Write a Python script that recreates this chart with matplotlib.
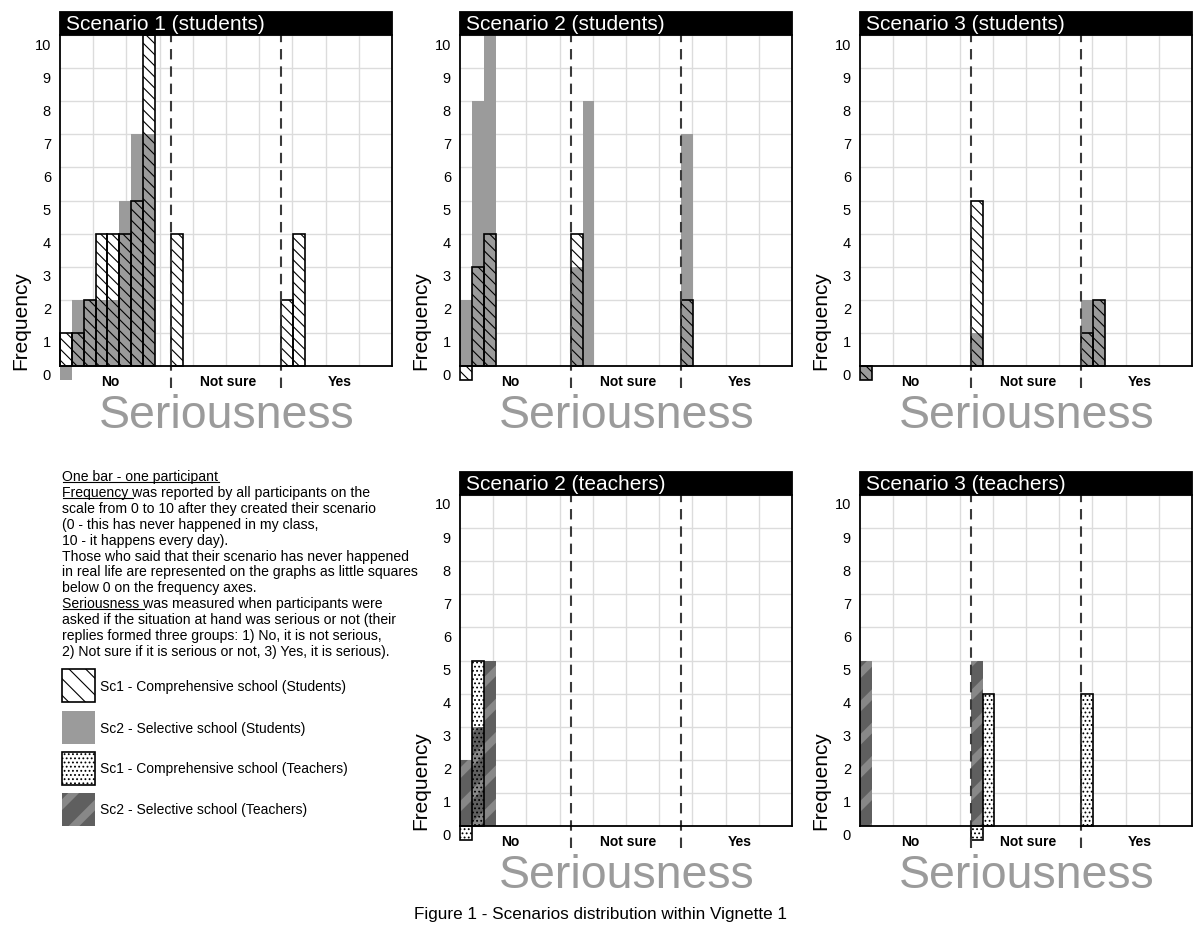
import matplotlib
matplotlib.use("Agg")
import matplotlib.pyplot as plt
from matplotlib.patches import Rectangle
from matplotlib.lines import Line2D
from matplotlib.transforms import ScaledTranslation

plt.rcParams["font.family"] = ["Liberation Sans", "DejaVu Sans"]
plt.rcParams["hatch.linewidth"] = 0.8

# ---------------- data ----------------
NEVER = None  # "this has never happened" -> little square below 0
GROUPS = ["No", "Not sure", "Yes"]
Y_TICKS = list(range(11))
Y_LABELS = [str(v) for v in Y_TICKS]

# Scenario 1 (students): per seriousness group, one value per participant
S1_STU_SC1 = [[1, 1, 2, 4, 4, 4, 5, 10], [4], [2, 4]]
S1_STU_SC2 = [[NEVER, 2, 2, 2, 2, 5, 7, 7], [], []]
# Scenario 2 (students)
S2_STU_SC1 = [[NEVER, 3, 4], [4], [2]]
S2_STU_SC2 = [[2, 8, 10], [3, 8], [7]]
# Scenario 3 (students)
S3_STU_SC1 = [[NEVER], [5], [1, 2]]
S3_STU_SC2 = [[NEVER], [1], [2, 2]]
# Scenario 2 (teachers)
S2_TEA_SC1 = [[NEVER, 5], [], []]
S2_TEA_SC2 = [[2, 3, 5], [], []]
# Scenario 3 (teachers)
S3_TEA_SC1 = [[], [NEVER, 4], [4]]
S3_TEA_SC2 = [[5], [5], []]

TITLES = ["Scenario 1 (students)", "Scenario 2 (students)", "Scenario 3 (students)",
          "Scenario 2 (teachers)", "Scenario 3 (teachers)"]

LEGEND_LINES = [
    "One bar - one participant",
    "Frequency was reported by all participants on the",
    "scale from 0 to 10 after they created their scenario",
    "(0 - this has never happened in my class,",
    "10 - it happens every day).",
    "Those who said that their scenario has never happened",
    "in real life are represented on the graphs as little squares",
    "below 0 on the frequency axes.",
    "Seriousness was measured when participants were",
    "asked if the situation at hand was serious or not (their",
    "replies formed three groups: 1) No, it is not serious,",
    "2) Not sure if it is serious or not, 3) Yes, it is serious).",
]
UNDERLINED = {0: "One bar - one participant", 1: "Frequency ", 8: "Seriousness "}
LEGEND_LABELS = ["Sc1 - Comprehensive school (Students)",
                 "Sc2 - Selective school (Students)",
                 "Sc1 - Comprehensive school (Teachers)",
                 "Sc2 - Selective school (Teachers)"]
X_LABEL = "Seriousness"
Y_LABEL = "Frequency"
CAPTION = "Figure 1 - Scenarios distribution within Vignette 1"

# ---------------- style / layout ----------------
W, H, DPI = 1197, 929, 100
X_MAX = 28.0
GROUP_START = [0.0, X_MAX / 3, 2 * X_MAX / 3]
LABEL_X = [4.2, 14.2, 23.6]
NEVER_H = 0.42
GRAY = "#9b9b9b"
DARK = "#5f5f5f"
DARK_STRIPE = "#888888"
HATCH_STU = "\\\\\\"
HATCH_TEA = "...."
THIN = 0.8
THICK = 5.5

fig = plt.figure(figsize=(W / DPI, H / DPI), dpi=DPI)
fig.patch.set_facecolor("white")

overlay = fig.add_axes([0, 0, 1, 1], zorder=10)
overlay.set_xlim(0, W)
overlay.set_ylim(H, 0)
overlay.axis("off")
overlay.patch.set_visible(False)


def px_axes(left, top, width, height):
    return fig.add_axes([left / W, 1 - (top + height) / H, width / W, height / H])


def positions(values):
    xs, hs = [], []
    for g, vals in enumerate(values):
        for i, v in enumerate(vals):
            xs.append(GROUP_START[g] + i)
            hs.append(-NEVER_H if v is None else v)
    return xs, hs


def set_hlw(patches, lw):
    for p in patches:
        if hasattr(p, "set_hatch_linewidth"):
            p.set_hatch_linewidth(lw)


def bars(ax, values, hatch_lw=THIN, **kw):
    xs, hs = positions(values)
    if not xs:
        return
    with plt.rc_context({"hatch.linewidth": hatch_lw}):
        cont = ax.bar(xs, hs, width=1.0, align="edge", **kw)
    for p in cont.patches:
        p.set_clip_on(False)
    set_hlw(cont.patches, hatch_lw)


def draw_panel(ax, title, sc1, sc2, kind):
    ax.set_xlim(0, X_MAX)
    ax.set_ylim(0, 10)
    ax.set_xticks([2.8 * k for k in range(1, 10)])
    ax.set_yticks(Y_TICKS)
    ax.set_yticklabels(Y_LABELS, fontsize=10.5)
    ax.tick_params(axis="x", length=0, labelbottom=False)
    ax.tick_params(axis="y", length=0, pad=6.5)
    off = ScaledTranslation(0, -8 / DPI, fig.dpi_scale_trans)
    for lab in ax.get_yticklabels():
        lab.set_transform(lab.get_transform() + off)
    ax.grid(True, color="#dcdcdc", lw=1.0, zorder=0)
    ax.set_axisbelow(True)
    for s in ["left", "right", "bottom"]:
        ax.spines[s].set_linewidth(1.3)
        ax.spines[s].set_zorder(6)
    ax.spines["top"].set_visible(False)

    # white bases for Sc1
    bars(ax, sc1, facecolor="white", edgecolor="white", linewidth=0, zorder=2)
    if kind == "students":
        bars(ax, sc2, facecolor=GRAY, edgecolor=GRAY, linewidth=0, zorder=3)
        bars(ax, sc1, facecolor="none", edgecolor="black", linewidth=1.2,
             hatch=HATCH_STU, zorder=4)
    else:
        bars(ax, sc2, hatch_lw=THICK, facecolor=DARK, edgecolor=DARK_STRIPE,
             linewidth=0, hatch="/", zorder=3)
        bars(ax, sc1, facecolor="none", edgecolor="black", linewidth=1.2,
             hatch=HATCH_TEA, zorder=4)

    for gx in GROUP_START[1:]:
        ax.plot([gx, gx], [-0.65, 10], color="#3a3a3a", lw=1.5,
                ls=(0, (5, 3.3)), clip_on=False, zorder=5)
    for lx, g in zip(LABEL_X, GROUPS):
        ax.text(lx, -0.45, g, ha="center", va="center", fontsize=10,
                fontweight="bold", clip_on=False)

    # title bar
    bar_h = 23 / 331
    ax.add_patch(Rectangle((0, 1), 1, bar_h, transform=ax.transAxes,
                           facecolor="black", edgecolor="black", lw=1.3,
                           clip_on=False, zorder=7))
    ax.text(6 / 332, 1 + bar_h / 2, title, transform=ax.transAxes, color="white",
            fontsize=15, ha="left", va="center", zorder=8, clip_on=False)


PANELS = [
    (TITLES[0], S1_STU_SC1, S1_STU_SC2, "students", 60, 36),
    (TITLES[1], S2_STU_SC1, S2_STU_SC2, "students", 460, 36),
    (TITLES[2], S3_STU_SC1, S3_STU_SC2, "students", 860, 36),
    (TITLES[3], S2_TEA_SC1, S2_TEA_SC2, "teachers", 460, 496),
    (TITLES[4], S3_TEA_SC1, S3_TEA_SC2, "teachers", 860, 496),
]
AX_W, AX_H = 332, 331

for title, sc1, sc2, kind, left, top in PANELS:
    ax = px_axes(left, top, AX_W, AX_H)
    draw_panel(ax, title, sc1, sc2, kind)
    bottom = top + AX_H
    overlay.text(left + AX_W / 2 + 1, bottom + 61, X_LABEL, fontsize=33.5,
                 color="#9b9b9b", ha="center", va="baseline")
    overlay.text(left - 39, bottom - 46, Y_LABEL, fontsize=15, rotation=90,
                 ha="center", va="center")

overlay.text(600, 919, CAPTION, fontsize=12.3, ha="center", va="baseline")

# ---------------- explanatory text ----------------
fig.canvas.draw()
renderer = fig.canvas.get_renderer()
to_data = overlay.transData.inverted()
x0, base0, step = 62.5, 481, 15.9
for i, line in enumerate(LEGEND_LINES):
    y = base0 + i * step
    overlay.text(x0, y, line, fontsize=10.1, ha="left", va="baseline")
    if i in UNDERLINED:
        tmp = overlay.text(x0, y, UNDERLINED[i], fontsize=10.1, ha="left",
                           va="baseline")
        bb = tmp.get_window_extent(renderer)
        tmp.remove()
        (xa, _), (xb, _) = to_data.transform([[bb.x0, 0], [bb.x1, 0]])
        overlay.add_line(Line2D([xa, xb], [y + 2.2, y + 2.2], color="black", lw=0.8))

# legend patches
PATCH_TOPS = [670, 712, 753, 794]
PATCH_SIZE = 33
styles = [
    dict(facecolor="white", edgecolor="black", linewidth=1.2, hatch="\\\\", hlw=THIN),
    dict(facecolor=GRAY, edgecolor=GRAY, linewidth=0, hatch=None, hlw=THIN),
    dict(facecolor="white", edgecolor="black", linewidth=1.2, hatch=HATCH_TEA, hlw=THIN),
    dict(facecolor=DARK, edgecolor=DARK_STRIPE, linewidth=0, hatch="/", hlw=THICK),
]
for tp, st, lab in zip(PATCH_TOPS, styles, LEGEND_LABELS):
    hlw = st.pop("hlw")
    with plt.rc_context({"hatch.linewidth": hlw}):
        r = Rectangle((62, tp), PATCH_SIZE, PATCH_SIZE, **st)
    set_hlw([r], hlw)
    overlay.add_patch(r)
    overlay.text(100, tp + PATCH_SIZE / 2, lab, fontsize=10, ha="left", va="center")

fig.savefig("out.png", dpi=DPI, facecolor="white")
